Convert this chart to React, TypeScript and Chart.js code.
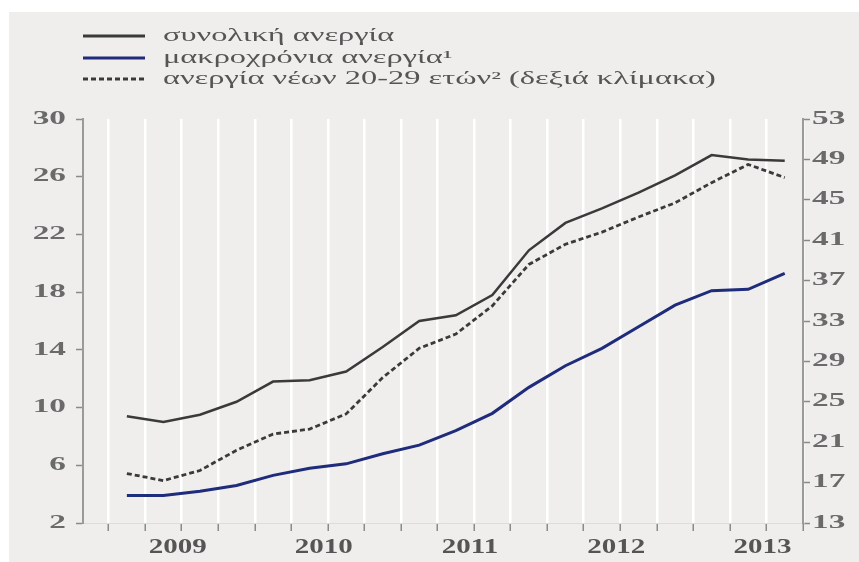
import React, { useEffect, useRef } from "react";
import { Chart, registerables } from "chart.js";

Chart.register(...registerables);

const quarters = [
  "2009Q1", "2009Q2", "2009Q3", "2009Q4",
  "2010Q1", "2010Q2", "2010Q3", "2010Q4",
  "2011Q1", "2011Q2", "2011Q3", "2011Q4",
  "2012Q1", "2012Q2", "2012Q3", "2012Q4",
  "2013Q1", "2013Q2", "2013Q3",
];
const totalUnemployment = [9.4, 9.0, 9.5, 10.4, 11.8, 11.9, 12.5, 14.2, 16.0, 16.4, 17.8, 20.9, 22.8, 23.8, 24.9, 26.1, 27.5, 27.2, 27.1];
const longTermUnemployment = [3.9, 3.9, 4.2, 4.6, 5.3, 5.8, 6.1, 6.8, 7.4, 8.4, 9.6, 11.4, 12.9, 14.1, 15.6, 17.1, 18.1, 18.2, 19.3];
const youthUnemployment = [17.9, 17.2, 18.2, 20.2, 21.8, 22.3, 23.8, 27.4, 30.3, 31.7, 34.5, 38.6, 40.6, 41.8, 43.3, 44.7, 46.7, 48.5, 47.2];
const yearLabels = ["2009", "2010", "2011", "2012", "2013"];
const seriesNames = [
  "συνολική ανεργία",
  "μακροχρόνια ανεργία¹",
  "ανεργία νέων 20-29 ετών² (δεξιά κλίμακα)",
];

const W = 850;
const H = 550;
const BG = "#efeeec";
const TRANSPARENT = "rgba(0,0,0,0)";

function drawStretched(ctx: CanvasRenderingContext2D, text: string, x: number, y: number, align: CanvasTextAlign, sx: number) {
  ctx.save();
  ctx.translate(x, y);
  ctx.scale(sx, 1);
  ctx.textAlign = align;
  ctx.textBaseline = "middle";
  ctx.fillText(text, 0, 0);
  ctx.restore();
}

const labelPlugin = {
  id: "stretchedLabels",
  afterDraw(chart: any) {
    const ctx = chart.ctx as CanvasRenderingContext2D;
    const area = chart.chartArea;
    ctx.save();
    // y axes
    ctx.fillStyle = "#6a6a6a";
    ctx.font = 'bold 18px "Liberation Serif", serif';
    const yL = chart.scales.y;
    yL.ticks.forEach((t: any) => {
      drawStretched(ctx, String(t.label), area.left - 17, yL.getPixelForValue(t.value), "right", 1.85);
    });
    const yR = chart.scales.y1;
    yR.ticks.forEach((t: any) => {
      drawStretched(ctx, String(t.label), area.right + 9, yR.getPixelForValue(t.value), "left", 1.85);
    });
    // x axis
    ctx.fillStyle = "#555555";
    ctx.font = 'bold 20px "Liberation Serif", serif';
    const xs = chart.scales.x;
    xs.ticks.forEach((t: any) => {
      const lbl = t.label;
      if (lbl) drawStretched(ctx, String(lbl), xs.getPixelForValue(t.value) - 4, area.bottom + 25, "center", 1.45);
    });
    // legend
    const rows = [24, 46, 67];
    chart.data.datasets.forEach((ds: any, i: number) => {
      const y = rows[i];
      ctx.beginPath();
      ctx.strokeStyle = ds.borderColor;
      ctx.lineWidth = 3;
      ctx.setLineDash(ds.borderDash || []);
      ctx.moveTo(74, y);
      ctx.lineTo(136, y);
      ctx.stroke();
      ctx.setLineDash([]);
      ctx.fillStyle = "#555555";
      ctx.font = '18px "Liberation Serif", serif';
      drawStretched(ctx, ds.label, 154, y, "left", 1.8);
    });
    ctx.restore();
  },
};

const bgPlugin = {
  id: "bg",
  beforeDraw(chart: any) {
    const ctx = chart.ctx;
    ctx.save();
    ctx.fillStyle = BG;
    ctx.fillRect(0, 0, chart.width, chart.height);
    ctx.restore();
  },
};

export default function App() {
  const ref = useRef<HTMLCanvasElement | null>(null);

  useEffect(() => {
    if (!ref.current) return;
    const toXY = (arr: number[]) => arr.map((v, i) => ({ x: i, y: v }));
    const boundaries: number[] = [];
    for (let i = 0; i <= quarters.length; i++) boundaries.push(i - 0.5);

    const tickFont = { family: '"Liberation Serif", serif', size: 17, weight: "bold" as const };

    const chart = new Chart(ref.current, {
      type: "line",
      data: {
        datasets: [
          {
            label: seriesNames[0],
            data: toXY(totalUnemployment),
            borderColor: "#3a3a3a",
            borderWidth: 2.5,
            pointRadius: 0,
            yAxisID: "y",
            tension: 0,
          },
          {
            label: seriesNames[1],
            data: toXY(longTermUnemployment),
            borderColor: "#1f2b7b",
            borderWidth: 3,
            pointRadius: 0,
            yAxisID: "y",
            tension: 0,
          },
          {
            label: seriesNames[2],
            data: toXY(youthUnemployment),
            borderColor: "#3a3a3a",
            borderWidth: 2.8,
            borderDash: [5, 3],
            pointRadius: 0,
            yAxisID: "y1",
            tension: 0,
          },
        ],
      },
      options: {
        responsive: false,
        animation: false,
        layout: { padding: { top: 107, left: 0, right: 0, bottom: 0 } },
        plugins: {
          legend: { display: false },
          tooltip: { enabled: false },
        },
        scales: {
          x: {
            type: "linear",
            min: -1.2,
            max: 18.5,
            afterBuildTicks: (axis: any) => {
              axis.ticks = boundaries.map((v) => ({ value: v }));
            },
            afterFit: (scale: any) => {
              scale.height = 39;
            },
            ticks: {
              autoSkip: false,
              maxRotation: 0,
              padding: 2,
              color: TRANSPARENT,
              font: { family: '"Liberation Serif", serif', size: 14, weight: "bold" },
              callback: (value: any) => {
                const idx = (Number(value) - 1.5) / 4;
                if (Number.isInteger(idx) && idx >= 0 && idx < yearLabels.length) return yearLabels[idx];
                return "";
              },
            },
            grid: {
              color: "#ffffff",
              lineWidth: 2.5,
              drawTicks: true,
              tickLength: 8,
              tickColor: "#8a8a8a",
              tickWidth: 1.5,
            },
            border: { display: true, color: "#dcdcdc", width: 1 },
          },
          y: {
            type: "linear",
            position: "left",
            min: 2,
            max: 30,
            afterFit: (scale: any) => {
              scale.width = 74;
            },
            ticks: { stepSize: 4, color: TRANSPARENT, font: tickFont, padding: 8 },
            grid: { drawOnChartArea: false, drawTicks: true, tickLength: 7, tickColor: "#8a8a8a", tickWidth: 1.5 },
            border: { display: true, color: "#9a9a9a", width: 2 },
          },
          y1: {
            type: "linear",
            position: "right",
            min: 13,
            max: 53,
            afterFit: (scale: any) => {
              scale.width = 56;
            },
            ticks: { stepSize: 4, color: TRANSPARENT, font: tickFont, padding: 5 },
            grid: { drawOnChartArea: false, drawTicks: true, tickLength: 7, tickColor: "#8a8a8a", tickWidth: 1.5 },
            border: { display: true, color: "#9a9a9a", width: 2 },
          },
        },
      },
      plugins: [bgPlugin, labelPlugin],
    });
    return () => chart.destroy();
  }, []);

  return (
    <div style={{ position: "absolute", left: 9, top: 12, width: W, height: H, background: BG }}>
      <canvas ref={ref} width={W} height={H} style={{ width: W, height: H, display: "block" }} />
    </div>
  );
}
